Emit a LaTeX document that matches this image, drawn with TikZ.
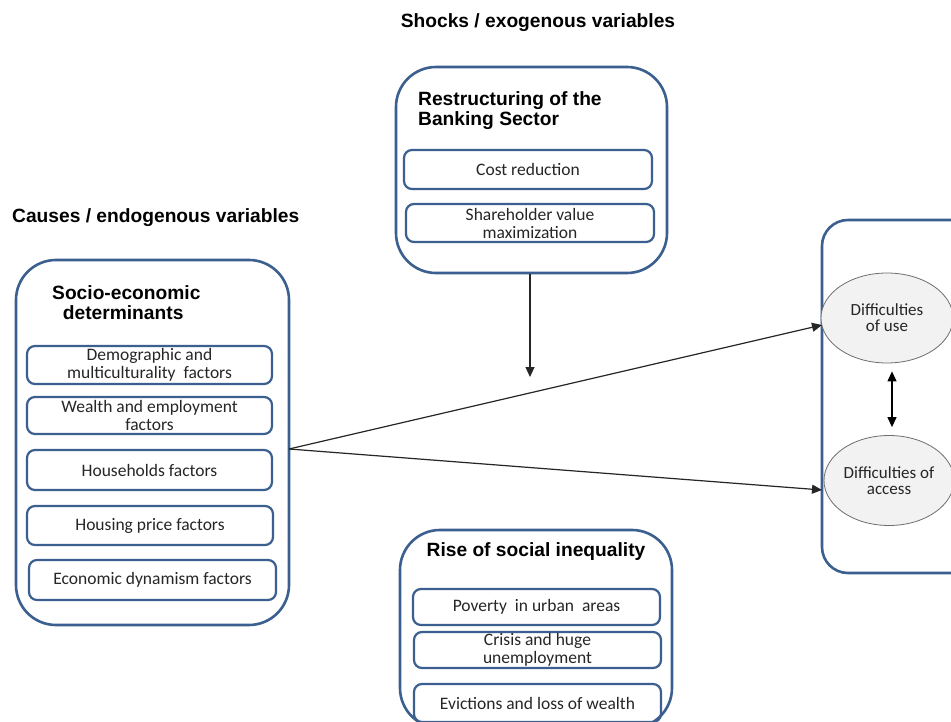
\documentclass[tikz,border=0pt]{standalone}
\usepackage{fontspec}
\setmainfont{Carlito}
\newfontfamily\headfont{Liberation Sans}
\usetikzlibrary{arrows.meta,shapes.geometric}
\definecolor{frameblue}{HTML}{3B5F8E}
\definecolor{ovalfill}{HTML}{F2F2F2}
\definecolor{ovalline}{HTML}{6E6E6E}
\tikzset{
  bigbox/.style={draw=frameblue, line width=2.6pt, rounded corners=40pt, inner sep=0pt},
  itembox/.style={draw=frameblue, line width=2.2pt, rounded corners=8pt, inner sep=0pt,
    align=center, font=\fontsize{17.5}{18}\selectfont, text=black!85},
  heading/.style={font=\headfont\bfseries\fontsize{19.2}{20}\selectfont, anchor=north west, align=left, inner sep=0pt},
  oval/.style={ellipse, draw=ovalline, line width=0.8pt, fill=ovalfill, inner sep=0pt,
    align=center, font=\fontsize{17}{16}\selectfont, text=black!85},
  link/.style={draw=black!85, line width=1.2pt, -{Triangle[length=10pt,width=9pt]}},
  twoway/.style={draw=black, line width=1.2pt, {Triangle[length=10pt,width=9pt]}-{Triangle[length=10pt,width=9pt]}}
}
\begin{document}
\begin{tikzpicture}[x=1pt,y=-1pt]
\useasboundingbox[fill=white] (0,0) rectangle (951,722);

% group headings
\node[heading, anchor=center] (shocks) at (538,23) {Shocks / exogenous variables};
\node[heading] (causes) at (12,208) {Causes / endogenous variables};

% restructuring of the banking sector
\node[bigbox, minimum width=271pt, minimum height=206pt] (bank) at (531.5,170) {};
\node[heading] (banktitle) at (418,91) {Restructuring of the\\Banking Sector};
\node[itembox, minimum width=248pt, minimum height=39pt] (cost) at (528,169.5) {Cost reduction};
\node[itembox, minimum width=248pt, minimum height=38pt] (share) at (530,223) {Shareholder value\\maximization};

% socio-economic determinants
\node[bigbox, minimum width=273pt, minimum height=365pt] (socio) at (152.5,442.5) {};
\node[heading] (sociotitle) at (52,285) {Socio-economic\\\ \ determinants};
\node[itembox, minimum width=245pt, minimum height=38pt] (demo) at (149.5,365) {Demographic and\\multiculturality\ \ factors};
\node[itembox, minimum width=245pt, minimum height=37pt] (wealth) at (149.5,415.5) {Wealth and employment\\factors};
\node[itembox, minimum width=245pt, minimum height=40pt] (house) at (149.5,470) {Households factors};
\node[itembox, minimum width=246pt, minimum height=39pt] (price) at (150,525.5) {Housing price factors};
\node[itembox, minimum width=247pt, minimum height=40pt] (econ) at (152.5,580) {Economic dynamism factors};

% rise of social inequality
\node[bigbox, minimum width=272pt, minimum height=198pt] (ineq) at (536,629) {};
\node[heading, anchor=center] (ineqtitle) at (536,552) {Rise of social inequality};
\node[itembox, minimum width=247pt, minimum height=36pt] (poverty) at (536.5,607) {Poverty\ \ in urban\ \ areas};
\node[itembox, minimum width=247pt, minimum height=36pt] (crisis) at (537.5,650) {Crisis and huge\\unemployment};
\node[itembox, minimum width=247pt, minimum height=38pt] (evict) at (537.5,703) {Evictions and loss of wealth};

% financial exclusion outcomes
\node[bigbox, rounded corners=26pt, minimum width=160pt, minimum height=353pt] (outcome) at (902,396.5) {};
\node[oval, minimum width=132pt, minimum height=90pt] (use) at (887,318) {Difficulties\\of use};
\node[oval, minimum width=130pt, minimum height=90pt] (access) at (889,480.5) {Difficulties of\\access};

% connectors
\coordinate (fork) at (289,449);
\coordinate (useend) at (822,325);
\coordinate (accessend) at (822,490);
\coordinate (shockend) at (530,377);
\draw[link] (bank.south -| shockend) -- (shockend);
\draw[link] (fork) -- (useend);
\draw[link] (fork) -- (accessend);
\draw[twoway] ([yshift=-8pt]use.south -| 892,0) -- ([yshift=8pt]access.north -| 892,0);
\end{tikzpicture}
\end{document}
